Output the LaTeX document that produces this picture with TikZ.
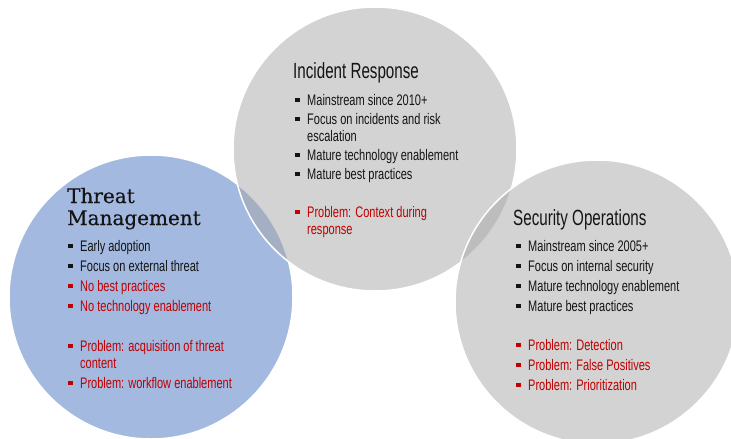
\documentclass[tikz,border=0pt]{standalone}
\usepackage{fontspec}
\usepackage{xcolor}
\usepackage{tikz}
\usetikzlibrary{positioning}
\newfontfamily\agencyfont[FakeStretch=0.72]{Liberation Sans}
\newfontfamily\agencyhead[FakeStretch=0.69]{Liberation Sans}
\newfontfamily\slabfont[FakeBold=0.4]{DejaVu Serif}
\definecolor{VennBlue}{RGB}{71, 115, 193}
\definecolor{VennGrey}{RGB}{167, 167, 167}
\definecolor{TextDark}{RGB}{20, 20, 20}
\definecolor{ProblemRed}{RGB}{192, 0, 0}
\newcommand{\bul}[1][TextDark]{\makebox[12pt][l]{\textcolor{#1}{\rule[3pt]{4.4pt}{4.4pt}}}}
\newcommand{\prob}[1]{\bul[ProblemRed]\textcolor{ProblemRed}{#1}}

\begin{document}
\begin{tikzpicture}[x=1pt, y=-1pt,
    venn/.style={circle, minimum size=284pt, inner sep=0pt, fill opacity=0.5,
                 draw=white, line width=1.5pt},
    listtext/.style={align=left, inner sep=0pt, text=TextDark,
                     font=\agencyfont\fontsize{15.3}{17}\selectfont},
    heading/.style={inner sep=0pt, text=TextDark,
                    font=\agencyhead\fontsize{22}{24}\selectfont}]
  \useasboundingbox (0,0) rectangle (731,439);
  % the three circles
  \node[venn, fill=VennBlue] (threat) at (151,297) {};
  \node[venn, fill=VennGrey] (incident) at (375,149) {};
  \node[venn, fill=VennGrey] (secops) at (597,302) {};

  % Threat Management (base = last line)
  \node[inner sep=0pt, align=left, text=TextDark, anchor=base west,
        font=\slabfont\fontsize{20}{22}\selectfont] (tmhead) at (67,225)
        {Threat\\Management};
  \node[listtext, anchor=base west] (tmlist) at (68,388)
    {\bul Early adoption\\[3pt]
     \bul Focus on external threat\\[3pt]
     \prob{No best practices}\\[3pt]
     \prob{No technology enablement}\\[23pt]
     \prob{Problem: acquisition of threat}\\
     \hspace*{12pt}\textcolor{ProblemRed}{content}\\[3pt]
     \prob{Problem: workflow enablement}};

  % Incident Response
  \node[heading, anchor=base west] (irhead) at (293,78) {Incident Response};
  \node[listtext, anchor=base west] (irlist) at (295,234)
    {\bul Mainstream since 2010+\\[2pt]
     \bul Focus on incidents and risk\\
     \hspace*{12pt}escalation\\[2pt]
     \bul Mature technology enablement\\[2pt]
     \bul Mature best practices\\[21pt]
     \prob{Problem: Context during}\\
     \hspace*{12pt}\textcolor{ProblemRed}{response}};

  % Security Operations
  \node[heading, anchor=base west] (sohead) at (513,225) {Security Operations};
  \node[listtext, anchor=base west] (solist) at (516,390)
    {\bul Mainstream since 2005+\\[3pt]
     \bul Focus on internal security\\[3pt]
     \bul Mature technology enablement\\[3pt]
     \bul Mature best practices\\[22pt]
     \prob{Problem: Detection}\\[3pt]
     \prob{Problem: False Positives}\\[3pt]
     \prob{Problem: Prioritization}};
\end{tikzpicture}
\end{document}
